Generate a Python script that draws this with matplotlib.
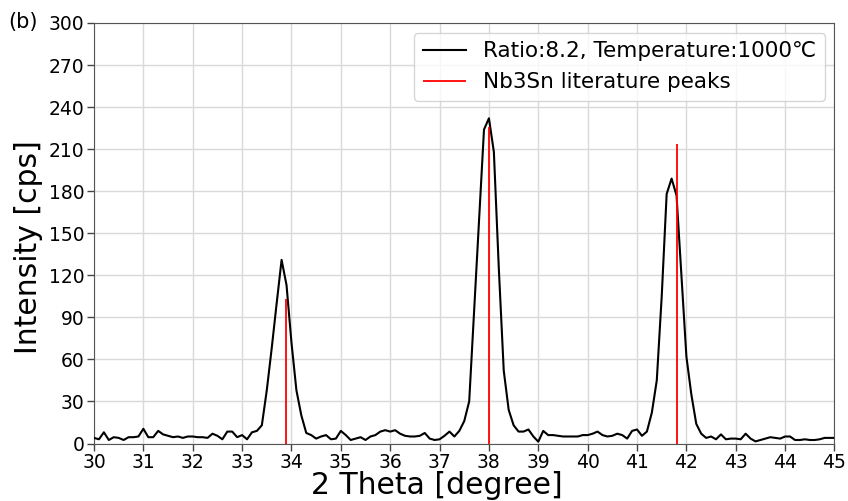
import numpy as np
import matplotlib
matplotlib.use("Agg")
import matplotlib.pyplot as plt

# Measured intensity, 2-theta scan from 30 to 45 degrees in 0.1 degree steps
intensity = [
    4, 3, 8, 2.5, 4.5, 4, 2.5, 4.5, 4.5, 5,            # 30.x
    10.5, 4.5, 4.5, 9, 6.5, 5.5, 4.5, 5, 4, 5,         # 31.x
    5, 4.5, 4.5, 4, 7, 5.5, 3, 8.5, 8.5, 4.5,          # 32.x
    6, 3, 8, 9, 13, 38, 68, 100, 131, 113,             # 33.x
    72, 38, 20, 7.5, 6, 3.5, 5, 6, 3, 3.5,             # 34.x
    9, 6, 2.5, 3.5, 4.5, 2.5, 5, 6, 8.5, 9.5,          # 35.x
    8.5, 9.5, 7, 5.5, 5, 5, 5.5, 7.5, 3.5, 2.5,        # 36.x
    3, 5.5, 8.5, 5, 9, 16, 30, 95, 160, 224,           # 37.x
    232, 208, 125, 52, 24, 13, 8.5, 8.5, 10, 5,        # 38.x
    1.3, 9, 6, 6, 5.5, 5, 5, 5, 5, 6,                  # 39.x
    6, 7, 8.5, 6, 5, 5.5, 7, 6, 3.5, 9,                # 40.x
    10, 5.5, 8.5, 22, 45, 105, 178, 189, 177, 120,     # 41.x
    62, 35, 14, 7, 4, 5, 3, 6.5, 3, 3.5,               # 42.x
    3.5, 3, 7, 3.5, 1.5, 2.5, 3.5, 4.5, 4, 3.5,        # 43.x
    5, 5, 2.5, 2.5, 3, 2.5, 2.5, 3, 4, 4,              # 44.x
    4,                                                 # 45.0
]
two_theta = np.linspace(30, 45, len(intensity))

# Nb3Sn literature peaks
lit_positions = [33.88, 38.00, 41.80]
lit_heights = [103, 226, 214]

x_ticks = list(range(30, 46))
y_ticks = list(range(0, 301, 30))

fig = plt.figure(figsize=(8.48, 5.01), dpi=100)
ax = fig.add_axes([94 / 848, 1 - 443.5 / 501, (834.5 - 94) / 848, (443.5 - 23) / 501])

ax.plot(two_theta, intensity, color="black", lw=1.5,
        label="Ratio:8.2, Temperature:1000\u2103", zorder=3)
ax.vlines(lit_positions, 0, lit_heights, color="red", lw=1.3,
          label="Nb3Sn literature peaks", zorder=4)

ax.set_xlim(30, 45)
ax.set_ylim(0, 300)
ax.set_xticks(x_ticks)
ax.set_yticks(y_ticks)
ax.tick_params(labelsize=13.5, length=5, width=1, color="#444444", pad=2)
ax.grid(True, color="#d9d9d9", lw=1)
ax.set_axisbelow(True)
for s in ax.spines.values():
    s.set_color("#555555")

ax.set_xlabel("2 Theta [degree]", fontsize=21.5, labelpad=-1)
ax.set_ylabel("Intensity [cps]", fontsize=21.5, labelpad=4)
ax.xaxis.label.set_x(0.463)
ax.yaxis.label.set_y(0.467)

ax.legend(loc="upper right", fontsize=15.5, handlelength=2.0,
          framealpha=0.8, edgecolor="#cccccc", fancybox=True,
          borderaxespad=0.45)

fig.text(8 / 848, 1 - 22 / 501, "(b)", fontsize=15, va="center", ha="left")

fig.savefig("out.png", dpi=100)
